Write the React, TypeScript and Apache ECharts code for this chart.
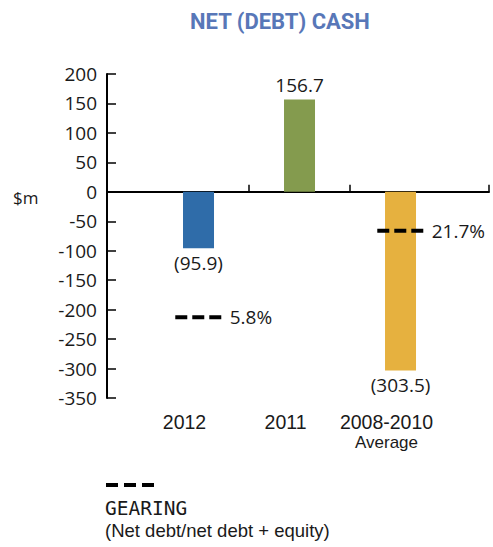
import React, { useEffect, useRef } from "react";
import * as echarts from "echarts";

const categories = ["2012", "2011", "2008-2010\nAverage"];
const netCash = [-95.9, 156.7, -303.5];
const barColors = ["#2f6ca9", "#849b4e", "#e6b13f"];
const gearingCategoryIndex = [0, 2];
const gearingPct = [5.8, 21.7];
const gearingLevel = [-213, -66];
const yTicks = { min: -350, max: 200, interval: 50 };

const X0 = 0.094;
const X1 = 3.876;
const NUM_FONT = "Open Sans";
const CAT_FONT = "Liberation Sans";

export default function App() {
  const ref = useRef<HTMLDivElement>(null);
  useEffect(() => {
    if (!ref.current) return;
    const chart = echarts.init(ref.current, undefined, { renderer: "svg" });
    const barData = netCash.map((v, i) => ({
      value: [i + 1, v],
      itemStyle: { color: barColors[i] },
      label: {
        show: true,
        position: v < 0 ? "bottom" : "top",
        distance: 5,
        formatter: () => (v < 0 ? `(${Math.abs(v).toFixed(1)})` : v.toFixed(1)),
        fontFamily: NUM_FONT,
        fontSize: 19,
        color: "#1a1a1a",
      },
    }));
    const gearingSeries = gearingCategoryIndex.map((ci, k) => ({
      type: "line",
      xAxisIndex: 0,
      yAxisIndex: 0,
      symbol: "none",
      data: [
        [ci + 1 - 0.23, gearingLevel[k]],
        [ci + 1 + 0.23, gearingLevel[k]],
      ],
      lineStyle: { color: "#000", width: 4, type: [12, 5], cap: "butt" },
      endLabel: {
        show: true,
        formatter: () => `${gearingPct[k].toFixed(1)}%`,
        distance: 8,
        fontFamily: NUM_FONT,
        fontSize: 19,
        color: "#1a1a1a",
      },
      z: 5,
    }));
    chart.setOption({
      animation: false,
      backgroundColor: "#ffffff",
      grid: { left: 107, right: 4, top: 74, bottom: 149, containLabel: false },
      xAxis: [
        {
          type: "value",
          min: X0,
          max: X1,
          axisLine: { show: true, onZero: true, lineStyle: { color: "#000", width: 2 } },
          axisTick: {
            show: true,
            inside: true,
            length: 7,
            customValues: [1.5, 2.5, X1 - 0.001],
            lineStyle: { color: "#000", width: 1.5 },
          },
          axisLabel: { show: false },
          splitLine: { show: false },
        },
        {
          type: "value",
          min: X0,
          max: X1,
          position: "bottom",
          axisLine: { show: false, onZero: false },
          axisTick: { show: false },
          splitLine: { show: false },
          axisLabel: {
            show: true,
            customValues: [1, 2, 3],
            formatter: (v: number) => {
              const c = categories[Math.round(v) - 1] ?? "";
              const parts = c.split("\n");
              return parts.length > 1 ? `{a|${parts[0]}}\n{b|${parts[1]}}` : `{a|${c}}`;
            },
            margin: 14.5,
            padding: [0, 28, 0, 0],
            rich: {
              a: { fontFamily: CAT_FONT, fontSize: 19.5, lineHeight: 19, color: "#1a1a1a" },
              b: { fontFamily: CAT_FONT, fontSize: 17, lineHeight: 22, color: "#1a1a1a" },
            },
          },
        },
      ],
      yAxis: {
        type: "value",
        min: yTicks.min,
        max: yTicks.max,
        interval: yTicks.interval,
        axisLine: { show: true, lineStyle: { color: "#000", width: 2 } },
        axisTick: { show: true, inside: true, length: 9, lineStyle: { color: "#000", width: 1.5 } },
        axisLabel: { margin: 10, fontFamily: NUM_FONT, fontSize: 19, color: "#1a1a1a" },
        splitLine: { show: false },
      },
      graphic: [
        {
          type: "text",
          x: 280,
          y: 21,
          style: {
            text: "NET (DEBT) CASH",
            textAlign: "center",
            textVerticalAlign: "middle",
            fontFamily: "Roboto",
            fontWeight: "bold",
            fontSize: 22,
            fill: "#5877b8",
          },
        },
        {
          type: "text",
          x: 13,
          y: 197,
          style: {
            text: "$m",
            textVerticalAlign: "middle",
            fontFamily: NUM_FONT,
            fontSize: 17,
            fill: "#1a1a1a",
          },
        },
        {
          type: "line",
          shape: { x1: 106, y1: 485, x2: 154, y2: 485 },
          style: { stroke: "#000", lineWidth: 4, lineDash: [12, 6] },
        },
        {
          type: "text",
          x: 105,
          y: 508,
          style: {
            text: "GEARING",
            textVerticalAlign: "middle",
            fontFamily: "DejaVu Sans Mono",
            fontSize: 19.5,
            fill: "#1a1a1a",
          },
        },
        {
          type: "text",
          x: 105,
          y: 530,
          style: {
            text: "(Net debt/net debt + equity)",
            textVerticalAlign: "middle",
            fontFamily: "Liberation Sans",
            fontSize: 18.5,
            fill: "#1a1a1a",
          },
        },
      ],
      series: [
        {
          type: "bar",
          xAxisIndex: 0,
          yAxisIndex: 0,
          barWidth: 31,
          data: barData,
          z: 2,
        },
        ...gearingSeries,
      ],
    });
    return () => chart.dispose();
  }, []);
  return (
    <div
      ref={ref}
      style={{ position: "absolute", left: 0, top: 0, width: 493, height: 547 }}
    />
  );
}
